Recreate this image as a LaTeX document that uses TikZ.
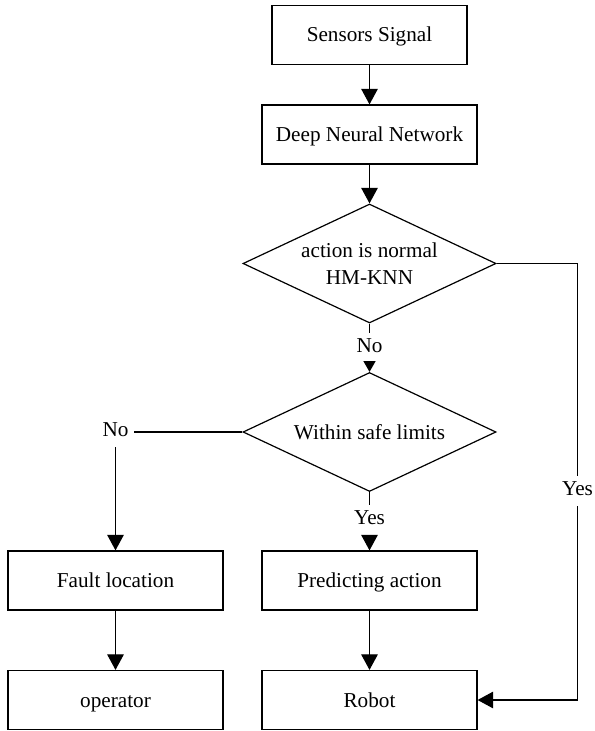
\documentclass[tikz,border=0pt]{standalone}
\usepackage{fontspec}
\setmainfont{Liberation Serif}
\usetikzlibrary{positioning, shapes.geometric, arrows.meta}

\begin{document}
\begin{tikzpicture}[x=0.5pt,y=-0.5pt,on grid,line width=0.6pt,
    font=\fontsize{10.6}{13.8}\selectfont,
    box/.style={draw,rectangle,minimum width=107.5pt,minimum height=29.5pt,inner sep=0pt,text height=7pt,text depth=0pt},
    decision/.style={draw,diamond,aspect=2.13,minimum width=126.5pt,minimum height=59.5pt,inner sep=0pt,align=center},
    lbl/.style={inner sep=2.5pt,text height=7pt,text depth=2.5pt},
    arr/.style={-{Triangle[width=8.3pt,length=7.8pt]}},
    arrsmall/.style={-{Triangle[width=6pt,length=5.4pt]}}]

    \useasboundingbox (0,0) rectangle (594,731);

      \node[box,minimum width=97.5pt] (sens)  at (369.5,35)          {Sensors Signal};
      \node[box]      (dnn)   [below=49.75pt of sens]  {Deep Neural Network};
      \node[decision] (dec1)  [below=64.5pt of dnn]    {action is normal\\HM-KNN};
      \node[lbl]      (no1)   [below=42.25pt of dec1]  {No};
      \node[decision] (dec2)  [below=84.25pt of dec1]  {Within safe limits};
      \node[lbl]      (yes1)  [below=44pt of dec2]     {Yes};
      \node[box]      (pred)  [below=74.25pt of dec2]  {Predicting action};
      \node[box]      (robot) [below=59.75pt of pred]  {Robot};
      \node[box]      (fault) [left=127pt of pred]     {Fault location};
      \node[box]      (oper)  [below=59.75pt of fault] {operator};
      \node[lbl]      (no2)   [left=127pt of dec2]     {No};
      \node[lbl]      (yes2)  at (577.5,491)           {Yes};

      \draw[arr] (sens) -- (dnn);
      \draw[arr] (dnn) -- (dec1);
      \draw (dec1) -- (no1);
      \draw[arrsmall] (no1) -- (dec2);
      \draw (dec2) -- (no2);
      \draw[arr] (no2) -- (fault);
      \draw (dec2) -- (yes1);
      \draw[arr] (yes1) -- (pred);
      \draw[arr] (pred) -- (robot);
      \draw[arr] (fault) -- (oper);
      \draw (dec1.east) -| (yes2);
      \draw[arr] (yes2) |- (robot);
    \end{tikzpicture}
\end{document}
